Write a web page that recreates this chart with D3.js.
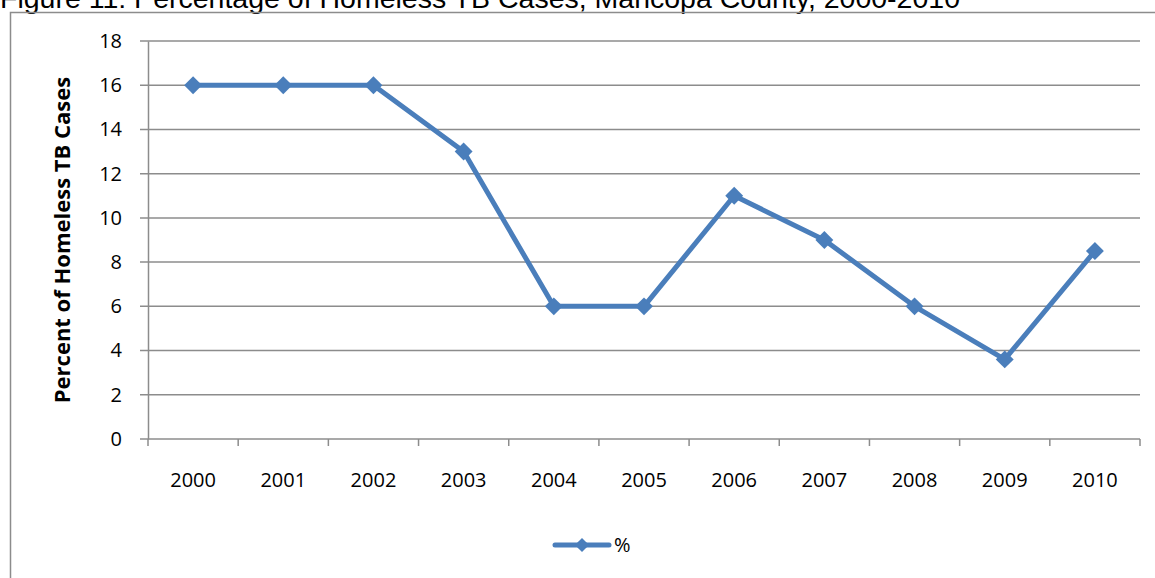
<!DOCTYPE html>
<html>
<head>
<meta charset="utf-8">
<script src="https://cdn.jsdelivr.net/npm/d3@7"></script>
<style>
  body { margin: 0; background: #fff; }
  svg { display: block; }
</style>
</head>
<body>
<script>
var years = ["2000", "2001", "2002", "2003", "2004", "2005", "2006", "2007", "2008", "2009", "2010"];
var pct = [16, 16, 16, 13, 6, 6, 11, 9, 6, 3.6, 8.5];
var yTicks = [0, 2, 4, 6, 8, 10, 12, 14, 16, 18];

var W = 1155, H = 578;
var plotL = 148, plotR = 1140, plotT = 41, plotB = 439;
var lineColor = "#4a7ebb", gridColor = "#8c8c8c";
var tickFont = "Open Sans, Noto Sans, sans-serif";

var svg = d3.select("body").append("svg")
    .attr("width", W)
    .attr("height", H);

// title, cut at the top like the source page
svg.append("text")
    .attr("x", 0)
    .attr("y", 8)
    .attr("font-family", "Liberation Sans, Arial, sans-serif")
    .attr("font-size", 28.5)
    .attr("fill", "#000")
    .text("Figure 11: Percentage of Homeless TB Cases, Maricopa County, 2000-2010");

// chart frame
svg.append("path")
    .attr("d", "M10.5," + H + "V12.5H" + W)
    .attr("fill", "none")
    .attr("stroke", gridColor)
    .attr("stroke-width", 1.5);

var x = d3.scaleBand()
    .domain(years)
    .range([plotL, plotR]);
var y = d3.scaleLinear()
    .domain([0, 18])
    .range([plotB, plotT]);

// gridlines
svg.append("g")
    .selectAll("line")
    .data(yTicks)
    .enter().append("line")
    .attr("x1", plotL - 8)
    .attr("x2", plotR)
    .attr("y1", function(d) { return y(d); })
    .attr("y2", function(d) { return y(d); })
    .attr("stroke", gridColor)
    .attr("stroke-width", 1.5);

// y axis
var yAxis = svg.append("g")
    .attr("transform", "translate(" + plotL + ",0)")
    .call(d3.axisLeft(y).tickValues(yTicks).tickSize(0).tickPadding(26));
yAxis.select(".domain").attr("stroke", gridColor).attr("stroke-width", 1.5);
yAxis.selectAll("text")
    .attr("font-family", tickFont)
    .attr("font-size", 20)
    .attr("fill", "#000");

// x axis
var xAxis = svg.append("g")
    .attr("transform", "translate(0," + plotB + ")")
    .call(d3.axisBottom(x).tickSize(0).tickPadding(34));
xAxis.select(".domain").remove();
xAxis.selectAll("text")
    .attr("font-family", tickFont)
    .attr("font-size", 20)
    .attr("fill", "#000");

svg.append("g")
    .selectAll("line")
    .data(years.concat(["end"]))
    .enter().append("line")
    .attr("x1", function(d, i) { return i < years.length ? x(d) : plotR; })
    .attr("x2", function(d, i) { return i < years.length ? x(d) : plotR; })
    .attr("y1", plotB)
    .attr("y2", plotB + 7)
    .attr("stroke", gridColor)
    .attr("stroke-width", 1.5);

// y axis title
svg.append("text")
    .attr("transform", "translate(70," + ((plotT + plotB) / 2) + ") rotate(-90)")
    .attr("text-anchor", "middle")
    .attr("font-family", tickFont)
    .attr("font-weight", "bold")
    .attr("font-size", 22)
    .attr("fill", "#000")
    .text("Percent of Homeless TB Cases");

// series
var line = d3.line()
    .x(function(d, i) { return x(years[i]) + x.bandwidth() / 2; })
    .y(function(d) { return y(d); });

svg.append("path")
    .datum(pct)
    .attr("d", line)
    .attr("fill", "none")
    .attr("stroke", lineColor)
    .attr("stroke-width", 5)
    .attr("stroke-linejoin", "round");

svg.append("g")
    .selectAll("path")
    .data(pct)
    .enter().append("path")
    .attr("transform", function(d, i) {
        return "translate(" + (x(years[i]) + x.bandwidth() / 2) + "," + y(d) + ") rotate(45)";
    })
    .attr("d", d3.symbol().type(d3.symbolSquare).size(160))
    .attr("fill", lineColor);

// legend
var lg = svg.append("g").attr("transform", "translate(555,545)");
lg.append("line")
    .attr("x1", 0).attr("x2", 54)
    .attr("stroke", lineColor)
    .attr("stroke-width", 5)
    .attr("stroke-linecap", "round");
lg.append("path")
    .attr("transform", "translate(27,0) rotate(45)")
    .attr("d", d3.symbol().type(d3.symbolSquare).size(100))
    .attr("fill", lineColor);
lg.append("text")
    .attr("x", 59)
    .attr("y", 7)
    .attr("font-family", tickFont)
    .attr("font-size", 20)
    .attr("fill", "#000")
    .text("%");
</script>
</body>
</html>
